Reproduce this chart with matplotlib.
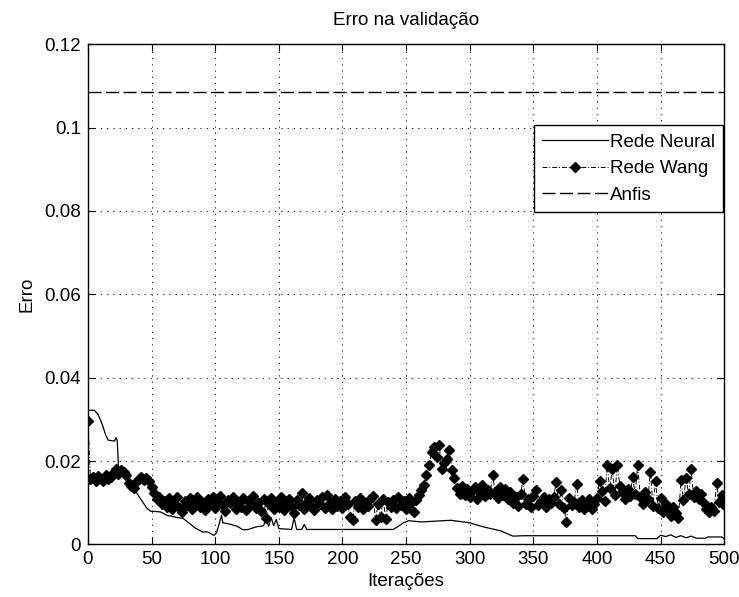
import numpy as np
import matplotlib.pyplot as plt

plt.rcParams['font.family'] = ['Liberation Sans', 'DejaVu Sans']
fs = 13.5

# erro da rede neural (pontos de quebra da curva)
neural_iter = [0, 5, 8, 11, 14, 16, 21, 22, 23, 24, 26, 33, 38, 43, 46, 49, 57, 62,
               68, 75, 80, 84, 90, 94, 99, 101, 103, 105, 106, 110, 117, 122, 126,
               132, 138, 140, 142, 144, 146, 148, 150, 160, 162, 164, 168, 170, 172,
               240, 248, 252, 262, 285, 298, 301, 311, 324, 334, 343, 430, 432, 447,
               450, 454, 458, 462, 466, 470, 474, 478, 485, 487, 498, 500]
neural_err = [0.0322, 0.0322, 0.0312, 0.0290, 0.0262, 0.0250, 0.0248, 0.0256, 0.0250,
              0.0185, 0.0165, 0.0146, 0.0125, 0.0102, 0.0088, 0.0080, 0.0078, 0.0070,
              0.0066, 0.0062, 0.0050, 0.0040, 0.0030, 0.0030, 0.0022, 0.0028, 0.0048,
              0.0070, 0.0052, 0.0050, 0.0044, 0.0035, 0.0036, 0.0042, 0.0045, 0.0062,
              0.0044, 0.0064, 0.0045, 0.0060, 0.0038, 0.0036, 0.0064, 0.0036, 0.0036,
              0.0048, 0.0036, 0.0036, 0.0052, 0.0057, 0.0054, 0.0058, 0.0053, 0.0051,
              0.0042, 0.0033, 0.0020, 0.0021, 0.0021, 0.0014, 0.0014, 0.0022, 0.0019,
              0.0023, 0.0017, 0.0021, 0.0016, 0.0020, 0.0015, 0.0015, 0.0018, 0.0018,
              0.0014]

# erro da rede wang, a cada 2 iteracoes
wang_iter = list(range(0, 501, 2))
wang_err = [
    0.0296, 0.0156, 0.0161, 0.0153, 0.0164, 0.0158, 0.0152, 0.0166, 0.0157, 0.0162,
    0.0172, 0.0180, 0.0169, 0.0178, 0.0173, 0.0166, 0.0147, 0.0140, 0.0136, 0.0150,
    0.0158, 0.0163, 0.0155, 0.0160, 0.0152, 0.0138, 0.0124, 0.0108, 0.0114, 0.0098,
    0.0104, 0.0090, 0.0112, 0.0084, 0.0100, 0.0114, 0.0088, 0.0079, 0.0105, 0.0095,
    0.0111, 0.0084, 0.0098, 0.0115, 0.0089, 0.0102, 0.0082, 0.0109, 0.0096, 0.0113,
    0.0087, 0.0103, 0.0117, 0.0094, 0.0080, 0.0106, 0.0099, 0.0114, 0.0086, 0.0101,
    0.0091, 0.0112, 0.0083, 0.0104, 0.0097, 0.0116, 0.0088, 0.0100, 0.0081, 0.0110,
    0.0064, 0.0096, 0.0111, 0.0085, 0.0103, 0.0090, 0.0114, 0.0083, 0.0099, 0.0108,
    0.0089, 0.0076, 0.0106, 0.0095, 0.0124, 0.0086, 0.0101, 0.0112, 0.0091, 0.0082,
    0.0107, 0.0097, 0.0114, 0.0087, 0.0118, 0.0100, 0.0084, 0.0110, 0.0092, 0.0105,
    0.0088, 0.0113, 0.0098, 0.0066, 0.0058, 0.0104, 0.0091, 0.0111, 0.0085, 0.0100,
    0.0093, 0.0108, 0.0117, 0.0059, 0.0097, 0.0066, 0.0110, 0.0061, 0.0103, 0.0090,
    0.0106, 0.0087, 0.0113, 0.0094, 0.0104, 0.0085, 0.0111, 0.0099, 0.0078, 0.0107,
    0.0118, 0.0130, 0.0142, 0.0166, 0.0190, 0.0222, 0.0234, 0.0210, 0.0238, 0.0182,
    0.0196, 0.0205, 0.0226, 0.0178, 0.0160, 0.0135, 0.0121, 0.0140, 0.0118, 0.0132,
    0.0113, 0.0128, 0.0137, 0.0109, 0.0124, 0.0143, 0.0116, 0.0131, 0.0120, 0.0166,
    0.0127, 0.0112, 0.0138, 0.0119, 0.0133, 0.0108, 0.0125, 0.0099, 0.0115, 0.0092,
    0.0121, 0.0156, 0.0098, 0.0110, 0.0089, 0.0117, 0.0131, 0.0094, 0.0105, 0.0113,
    0.0091, 0.0108, 0.0099, 0.0115, 0.0149, 0.0096, 0.0130, 0.0087, 0.0055, 0.0112,
    0.0094, 0.0102, 0.0145, 0.0090, 0.0106, 0.0086, 0.0099, 0.0109, 0.0084, 0.0097,
    0.0112, 0.0153, 0.0128, 0.0104, 0.0190, 0.0135, 0.0180, 0.0119, 0.0190, 0.0141,
    0.0126, 0.0108, 0.0133, 0.0117, 0.0163, 0.0121, 0.0190, 0.0114, 0.0098, 0.0127,
    0.0108, 0.0175, 0.0092, 0.0153, 0.0088, 0.0112, 0.0079, 0.0097, 0.0084, 0.0068,
    0.0090, 0.0075, 0.0063, 0.0154, 0.0106, 0.0160, 0.0121, 0.0180, 0.0115, 0.0128,
    0.0110, 0.0122, 0.0099, 0.0084, 0.0078, 0.0091, 0.0080, 0.0148, 0.0102, 0.0118,
    0.0095,
]

# erro do anfis (constante)
anfis_err = 0.1085

xticks = list(range(0, 501, 50))
yticks = [0, 0.02, 0.04, 0.06, 0.08, 0.1, 0.12]
yticklabels = ['0', '0.02', '0.04', '0.06', '0.08', '0.1', '0.12']

fig = plt.figure(figsize=(7.39, 5.97), dpi=100)
ax = fig.add_axes([0.119, 0.088, 0.861, 0.838])

ax.plot(neural_iter, neural_err, color='k', lw=0.9, label='Rede Neural')
ax.plot(wang_iter, wang_err, color='k', ls=(0, (5, 2, 1, 2)), lw=0.7, marker='D',
        markersize=4.6, markerfacecolor='k', label='Rede Wang')
ax.plot([wang_iter[0], wang_iter[-1]], [anfis_err, anfis_err], color='k',
        ls=(0, (9.4, 3.2)), lw=1.0, label='Anfis')

ax.set_xlim(0, 500)
ax.set_ylim(0, 0.12)
ax.set_xticks(xticks)
ax.set_yticks(yticks)
ax.set_yticklabels(yticklabels)
ax.tick_params(direction='in', top=True, right=True, length=5, labelsize=fs)
ax.tick_params(axis='x', pad=4.5)
ax.tick_params(axis='y', pad=5)
ax.grid(True, color='k', ls=(0, (1.2, 5.2)), lw=0.7)
for s in ax.spines.values():
    s.set_linewidth(1.0)

ax.set_title('Erro na validação', fontsize=fs, pad=13.5)
ax.set_xlabel('Iterações', fontsize=fs, labelpad=3.5)
ax.set_ylabel('Erro', fontsize=fs, labelpad=6)

leg = ax.legend(loc='upper right', bbox_to_anchor=(0.998, 0.838), fontsize=fs,
                fancybox=False, framealpha=1, edgecolor='k', handlelength=3.5,
                borderaxespad=0, handletextpad=0.1, labelspacing=0.5,
                borderpad=0.45)
leg.get_frame().set_linewidth(1.0)

fig.savefig('out.png', dpi=100)
